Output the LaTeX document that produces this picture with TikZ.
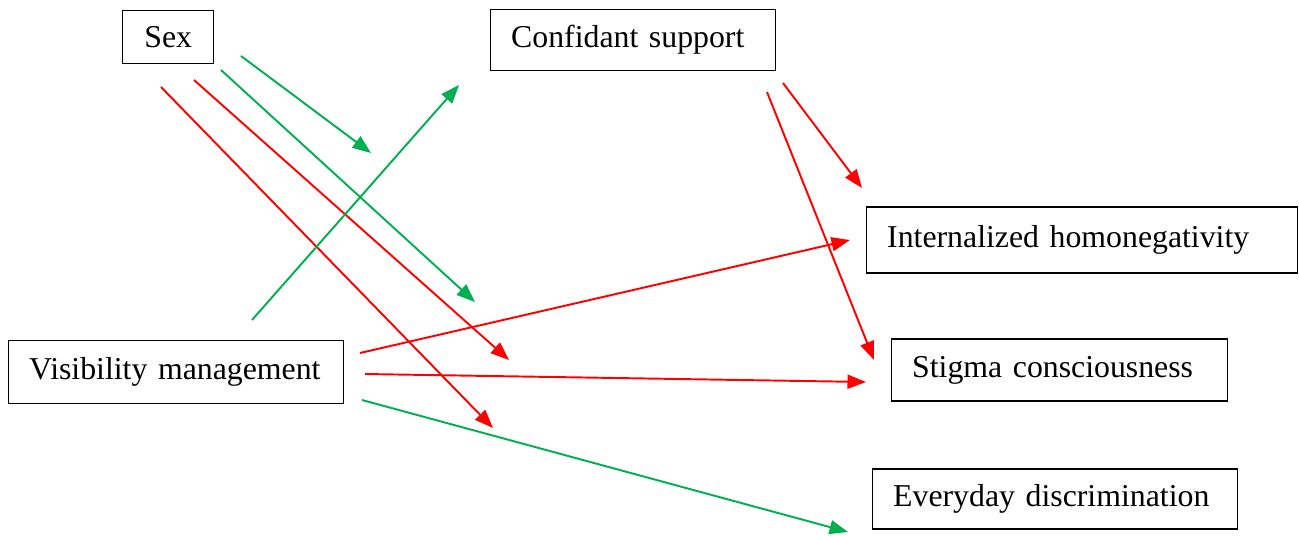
\documentclass[tikz,border=0pt]{standalone}
\usepackage{fontspec}
\setmainfont{Liberation Serif}
\usetikzlibrary{arrows.meta}
\definecolor{pathgreen}{RGB}{0,176,80}
\definecolor{pathred}{RGB}{255,0,0}

\begin{document}
\begin{tikzpicture}[
    x=0.02cm, y=-0.02cm,
    var/.style={draw, line width=0.8pt, anchor=west, align=left, inner xsep=0.41cm,
      minimum height=1.22cm, font=\fontsize{18.1}{21}\selectfont},
    posarrow/.style={-{Triangle[length=0.37cm, width=0.28cm]}, line width=1.1pt, pathgreen},
    negarrow/.style={-{Triangle[length=0.37cm, width=0.28cm]}, line width=1.1pt, pathred}
  ]
    \useasboundingbox (0,0) rectangle (1299,535);
    % boxes
    \node[var, inner xsep=0pt, minimum width=1.82cm, minimum height=1.06cm, align=center]
      (sex) at (122,37) {Sex};
    \node[var, text width=4.88cm] (conf) at (490,40) {Confidant support};
    \node[var, text width=7.8cm, minimum height=1.32cm] (ih) at (866,240) {Internalized homonegativity};
    \node[var, text width=5.88cm, minimum height=1.26cm] (vis) at (8,372) {Visibility management};
    \node[var, text width=5.9cm, minimum height=1.24cm] (sc) at (891,370) {Stigma consciousness};
    \node[var, text width=6.48cm, minimum height=1.2cm] (ed) at (872,499) {Everyday discrimination};
    % free ends of the paths
    \coordinate (s1) at (241,56);  \coordinate (e1) at (371,153);
    \coordinate (s2) at (221,70);  \coordinate (e2) at (475,302);
    \coordinate (s3) at (194,80);  \coordinate (e3) at (509,360);
    \coordinate (s4) at (161,87);  \coordinate (e4) at (493,428);
    \coordinate (v1) at (252,320); \coordinate (c0) at (459,85);
    \coordinate (v2) at (360,353); \coordinate (i0) at (850,240);
    \coordinate (v3) at (365,374); \coordinate (t0) at (866,382);
    \coordinate (v4) at (362,400); \coordinate (d0) at (848,532);
    \coordinate (c1) at (783,83);  \coordinate (i1) at (862,188);
    \coordinate (c2) at (767,92);  \coordinate (t1) at (874,360);
    % paths
    \draw[posarrow] (s1) -- (e1);
    \draw[posarrow] (s2) -- (e2);
    \draw[negarrow] (s3) -- (e3);
    \draw[negarrow] (s4) -- (e4);
    \draw[posarrow] (v1) -- (c0);
    \draw[negarrow] (v2) -- (i0);
    \draw[negarrow] (v3) -- (t0);
    \draw[posarrow] (v4) -- (d0);
    \draw[negarrow] (c1) -- (i1);
    \draw[negarrow] (c2) -- (t1);
  \end{tikzpicture}
\end{document}
